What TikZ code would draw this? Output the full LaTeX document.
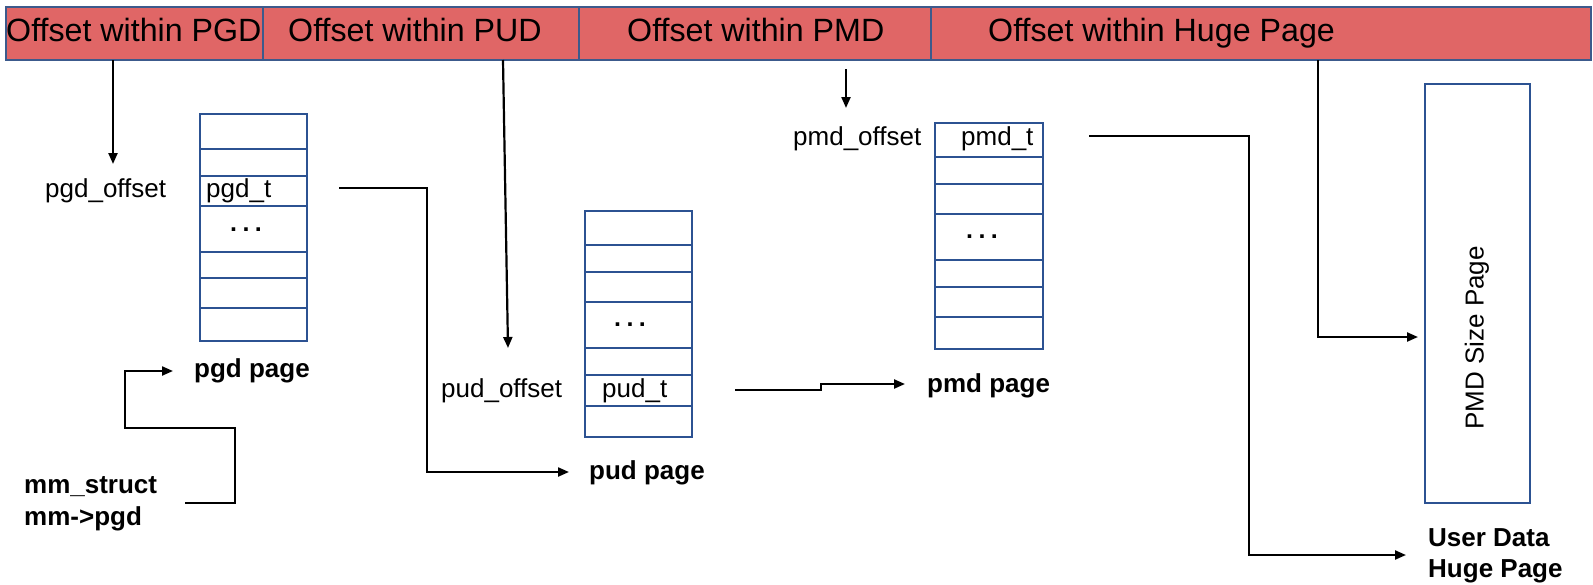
\documentclass[tikz,border=0pt]{standalone}
\usepackage{fontspec}
\setmainfont{Liberation Sans}
\usetikzlibrary{arrows.meta}
\definecolor{barred}{RGB}{224,102,102}
\definecolor{tblue}{RGB}{44,82,146}
\definecolor{bblue}{RGB}{60,90,140}

\begin{document}
\begin{tikzpicture}[x=1pt,y=-1pt,
  conn/.style={draw=black, line width=2.2pt},
  arr/.style={conn, -{Triangle[length=11pt,width=9pt]}},
  barcell/.style={draw=bblue, fill=barred, line width=2pt, inner sep=0pt, outer sep=0pt, anchor=north west, minimum height=53pt},
  cell/.style={draw=tblue, line width=2.2pt, inner sep=0pt, outer sep=0pt, anchor=north west, minimum width=107pt},
  head/.style={inner sep=0pt, anchor=base west, font=\fontsize{32.2}{36}\selectfont},
  lab/.style={inner sep=0pt, anchor=base west, font=\fontsize{26}{30}\selectfont},
  blab/.style={inner sep=0pt, anchor=base west, font=\fontsize{26}{30}\selectfont\bfseries},
  dots/.style={inner sep=0pt, anchor=base, font=\fontsize{25}{30}\selectfont\bfseries}
]
\useasboundingbox (0,0) rectangle (1593,584);

% virtual address split into offset fields
\node[barcell, minimum width=257pt] (cPGD) at (6,7) {};
\node[barcell, minimum width=316pt] (cPUD) at (263,7) {};
\node[barcell, minimum width=352pt] (cPMD) at (579,7) {};
\node[barcell, minimum width=660pt] (cHUGE) at (931,7) {};
\node[head] (tPGD) at (6,41) {Offset within PGD};
\node[head] (tPUD) at (288,41) {Offset within PUD};
\node[head] (tPMD) at (627,41) {Offset within PMD};
\node[head] (tHUGE) at (988,41) {Offset within Huge Page};

% pgd page
\foreach \t/\b [count=\i] in {114/149,149/176,176/206,206/252,252/278,278/308,308/341}
  \node[cell, minimum height={\b-\t}] (g\i) at (200,\t) {};
% pud page
\foreach \t/\b [count=\i] in {211/245,245/272,272/302,302/348,348/375,375/406,406/437}
  \node[cell, minimum height={\b-\t}] (u\i) at (585,\t) {};
% pmd page
\foreach \t/\b [count=\i] in {123/157,157/184,184/214,214/260,260/287,287/317,317/349}
  \node[cell, minimum height={\b-\t}, minimum width=108pt] (m\i) at (935,\t) {};

% entries and continuation marks
\node[lab] (pgdt) at (206,197) {pgd\_t};
\node[lab] (pudt) at (602,397) {pud\_t};
\node[lab] (pmdt) at (961,145) {pmd\_t};
\node[dots] (gdots) at (246,231) {.\hspace{5.5pt}.\hspace{5.5pt}.};
\node[dots] (udots) at (630,326) {.\hspace{5.5pt}.\hspace{5.5pt}.};
\node[dots] (mdots) at (982,238) {.\hspace{5.5pt}.\hspace{5.5pt}.};

% index labels
\node[lab] (pgdoff) at (45,197) {pgd\_offset};
\node[lab] (pudoff) at (441,397) {pud\_offset};
\node[lab] (pmdoff) at (793,145) {pmd\_offset};

% page titles
\node[blab] (pgdpage) at (194,377) {pgd page};
\node[blab] (pudpage) at (589,479) {pud page};
\node[blab] (pmdpage) at (927,392) {pmd page};
\node[blab] (mm1) at (24,493) {mm\_struct};
\node[blab] (mm2) at (24,525) {mm->pgd};
\node[blab] (ud1) at (1428,546) {User Data};
\node[blab] (ud2) at (1428,577) {Huge Page};

% huge page
\node[draw=tblue, line width=2.2pt, inner sep=0pt, outer sep=0pt, anchor=north west,
      minimum width=105pt, minimum height=419pt] (huge) at (1425,84) {};
\node[rotate=90, inner sep=0pt, font=\fontsize{26}{30}\selectfont] (hugetxt) at (1477,338) {PMD Size Page};

% connector end points
\coordinate (pgdTip) at (113,164);
\coordinate (pudTop) at (503,60);
\coordinate (pudTip) at (508,348);
\coordinate (pmdTop) at (846,69);
\coordinate (pmdTip) at (846,108);
\coordinate (hugeTip) at (1418,337);
\coordinate (pudIn) at (569,472);
\coordinate (pmdIn) at (905,384);
\coordinate (udIn) at (1406,555);
\coordinate (pgdIn) at (173,371);

% offsets selecting the entries
\draw[arr] (cPGD.south -| pgdTip) -- (pgdTip);
\draw[arr] (pudTop) -- (pudTip);
\draw[arr] (pmdTop) -- (pmdTip);
\draw[arr] (cHUGE.south -| 1318,0) |- (hugeTip);

% table entries pointing to the next level
\draw[arr] ([xshift=32pt]g3.east |- 0,188) -- (427,188) |- (pudIn);
\draw[arr] ([xshift=43pt]u6.east |- 0,390) -- (821,390) -- (821,384) -- (pmdIn);
\draw[arr] ([xshift=46pt]m1.east |- 0,136) -- (1249,136) |- (udIn);
\draw[arr] (185,503) -- (235,503) -- (235,428) -- (125,428) |- (pgdIn);
\end{tikzpicture}
\end{document}
